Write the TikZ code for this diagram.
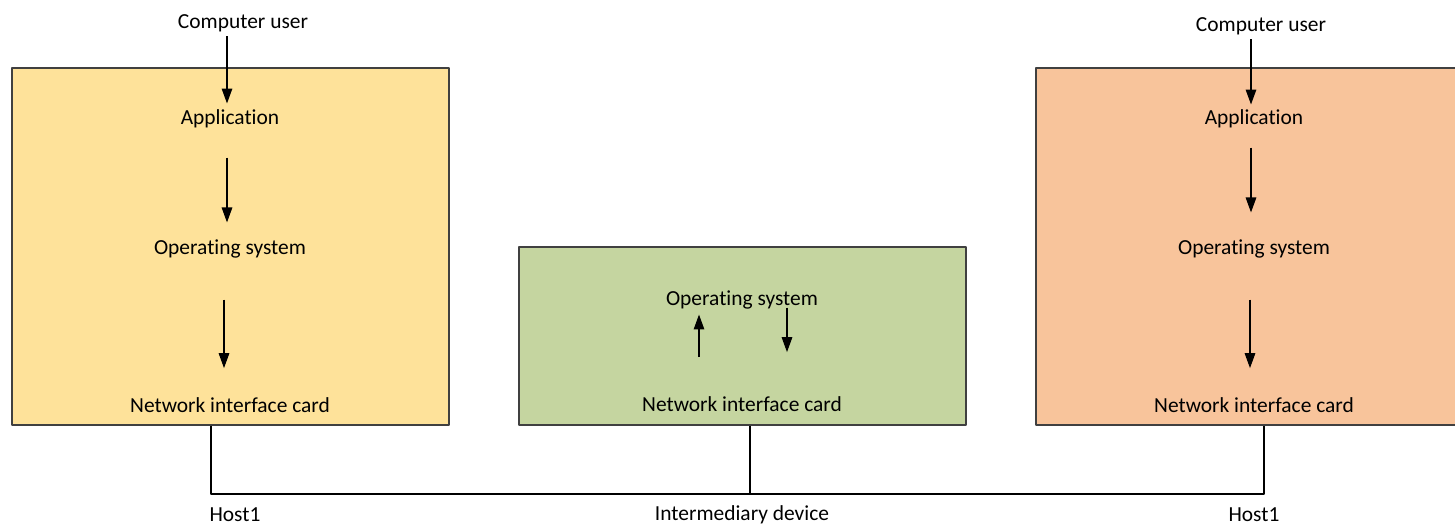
\documentclass[tikz,border=0pt]{standalone}
\usepackage{fontspec}
\setmainfont{Carlito}[RawFeature={-liga;-clig;-calt}]
\usetikzlibrary{arrows.meta}
\definecolor{hostyellow}{HTML}{FEE29A}
\definecolor{devgreen}{HTML}{C5D5A0}
\definecolor{hostorange}{HTML}{F8C49B}
\begin{document}
\begin{tikzpicture}[x=0.02cm, y=-0.02cm, font=\fontsize{12.2}{14}\selectfont, line join=round,
		arr/.style={-{Triangle[length=8.5pt,width=6pt]}, line width=0.7pt},
		box/.style={draw=black!75, line width=0.7pt, inner sep=0pt},
		lbl/.style={inner sep=0pt}]
			\useasboundingbox (0,0) rectangle (1455,526);
			% boxes
			\node[box, fill=hostyellow, minimum width=8.74cm, minimum height=7.14cm] (boxL) at (230.5,246.5) {};
			\node[box, fill=devgreen, minimum width=8.94cm, minimum height=3.56cm] (boxM) at (742.5,336) {};
			\node[box, fill=hostorange, minimum width=8.68cm, minimum height=7.14cm] (boxR) at (1253,246.5) {};
			% left host
			\node[lbl] (cuL) at (243,23) {Computer user};
			\node[lbl] (appL) at (230,119) {Application};
			\node[lbl] (osL) at (230,249) {Operating system};
			\node[lbl] (nicL) at (230,405) {Network interface card};
			\draw[arr] ([shift={(-16,4)}]cuL.south) -- ([shift={(-3,-6)}]appL.north);
			\draw[arr] ([shift={(-3,29)}]appL.south) -- ([shift={(-3,-17)}]osL.north);
			\draw[arr] ([shift={(-6,41)}]osL.south) -- ([shift={(-6,-29)}]nicL.north);
			% intermediary device
			\node[lbl] (osM) at (742,300) {Operating system};
			\node[lbl] (nicM) at (742,404) {Network interface card};
			\draw[arr] ([shift={(-43,-39)}]nicM.north) -- ([shift={(-43,5)}]osM.south);
			\draw[arr] ([shift={(45,-2)}]osM.south) -- ([shift={(45,-44)}]nicM.north);
			% right host
			\node[lbl] (cuR) at (1261,26) {Computer user};
			\node[lbl] (appR) at (1254,119) {Application};
			\node[lbl] (osR) at (1254,249) {Operating system};
			\node[lbl] (nicR) at (1254,405) {Network interface card};
			\draw[arr] ([shift={(-10,4)}]cuR.south) -- ([shift={(-3,-5)}]appR.north);
			\draw[arr] ([shift={(-3,19)}]appR.south) -- ([shift={(-3,-27)}]osR.north);
			\draw[arr] ([shift={(-4,41)}]osR.south) -- ([shift={(-4,-29)}]nicR.north);
			% network
			\coordinate (jL) at (211,494);
			\coordinate (jM) at (750,494);
			\coordinate (jR) at (1264,494);
			\draw[line width=0.7pt] (boxL.south -| jL) -- (jL) -- (jR) -- (boxR.south -| jR);
			\draw[line width=0.7pt] (boxM.south -| jM) -- (jM);
			\node[lbl] (hostL) at (235,515) {Host1};
			\node[lbl] (dev) at (742,515) {Intermediary device};
			\node[lbl] (hostR) at (1254,515) {Host1};
		\end{tikzpicture}
\end{document}
